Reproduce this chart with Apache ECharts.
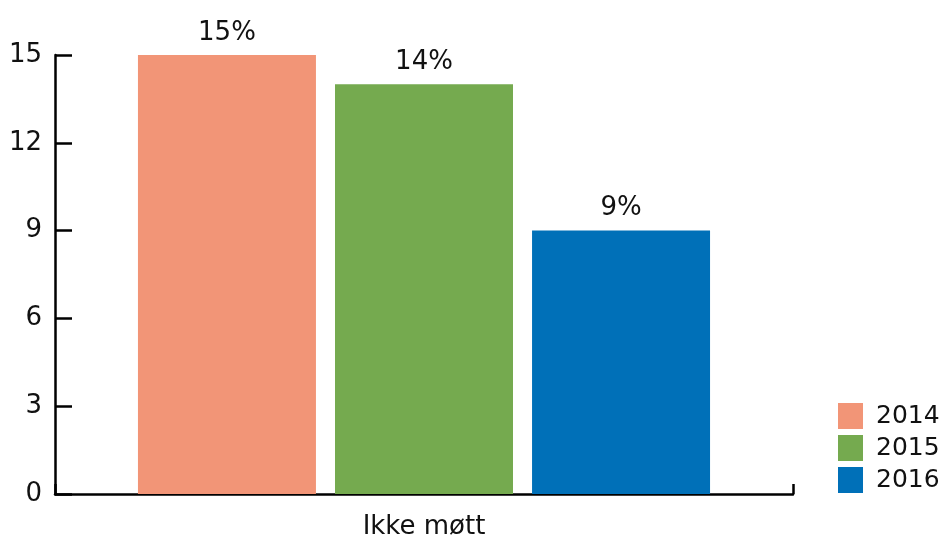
<!DOCTYPE html>
<html>
<head>
<meta charset="utf-8">
<script src="https://cdn.jsdelivr.net/npm/echarts@6/dist/echarts.min.js"></script>
<style>
  html, body { margin: 0; padding: 0; background: #ffffff; }
  #chart { width: 944px; height: 540px; }
</style>
</head>
<body>
<div id="chart"></div>
<script>
// Share not attending, by year
const categories = ['Ikke møtt'];
const years = ['2014', '2015', '2016'];
const values2014 = [15];
const values2015 = [14];
const values2016 = [9];
const yTicks = { min: 0, max: 15, interval: 3 };
const colors = ['#F29577', '#75AA4F', '#0070B8'];

const font = 'DejaVu Sans';
const seriesValues = [values2014, values2015, values2016];

const chart = echarts.init(document.getElementById('chart'), null, { renderer: 'canvas' });

chart.setOption({
  animation: false,
  textStyle: { fontFamily: font },
  grid: { left: 55, right: 151, top: 55, bottom: 46, containLabel: false },
  legend: {
    orient: 'vertical',
    left: 833,
    top: 398,
    itemWidth: 25,
    itemHeight: 26,
    itemGap: 6,
    icon: 'rect',
    textStyle: { fontFamily: font, fontSize: 25, color: '#111', padding: [0, 0, 0, 8] },
    data: years
  },
  xAxis: {
    type: 'category',
    data: categories,
    axisLine: { lineStyle: { color: '#000', width: 2.5 } },
    axisTick: { show: true, inside: true, length: 10, lineStyle: { color: '#000', width: 2.5 } },
    axisLabel: { fontFamily: font, fontSize: 26, color: '#111', margin: 20 }
  },
  yAxis: {
    type: 'value',
    min: yTicks.min,
    max: yTicks.max,
    interval: yTicks.interval,
    splitLine: { show: false },
    axisLine: { show: true, lineStyle: { color: '#000', width: 2.5 } },
    axisTick: { show: true, inside: true, length: 17, lineStyle: { color: '#000', width: 2.5 } },
    axisLabel: { fontFamily: font, fontSize: 26, color: '#111', margin: 13 }
  },
  series: years.map((y, i) => ({
    name: y,
    type: 'bar',
    data: seriesValues[i],
    barWidth: 178,
    barGap: '10.7%',
    itemStyle: { color: colors[i] },
    label: {
      show: true,
      position: 'top',
      distance: 9,
      formatter: (p) => p.value + '%',
      fontFamily: font,
      fontSize: 26,
      color: '#111'
    }
  }))
});
</script>
</body>
</html>
